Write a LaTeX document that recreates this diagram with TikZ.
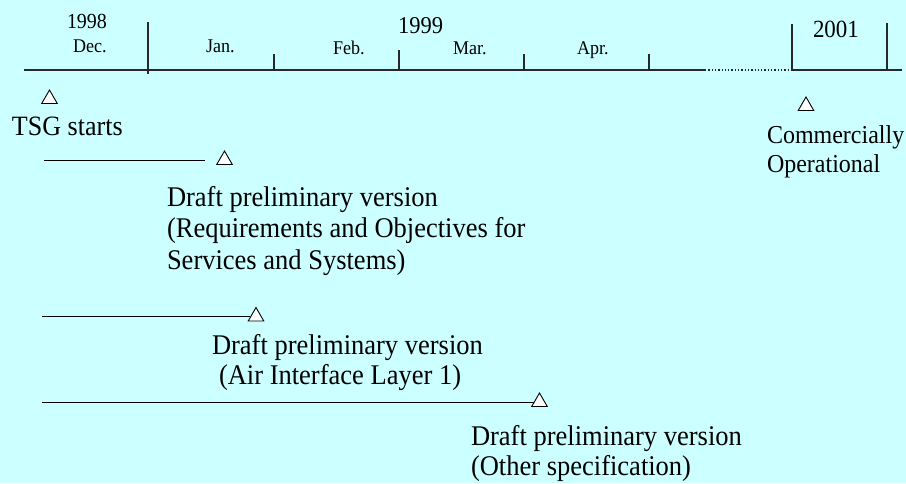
\documentclass[tikz,border=0pt]{standalone}
\usepackage{fontspec}
\setmainfont{Liberation Serif}[FakeStretch=0.93]
\usetikzlibrary{shapes.geometric}
\definecolor{bgcyan}{RGB}{204,255,255}
\definecolor{axisgrey}{RGB}{40,40,40}
\begin{document}
\begin{tikzpicture}[x=1pt,y=-1pt,
  lbl/.style={inner sep=0pt, outer sep=0pt, anchor=base west, text=black},
  mlbl/.style={inner sep=0pt, outer sep=0pt, anchor=north west, align=left, text=black},
  monthfont/.style={font=\fontsize{19.4}{22}\selectfont},
  tri/.style={regular polygon, regular polygon sides=3, minimum size=18pt,
    inner sep=0pt, draw=black, fill=white, line width=0.9pt},
  axisline/.style={draw=axisgrey, line width=1.3pt},
  tickline/.style={draw=axisgrey, line width=1.1pt},
  spanline/.style={draw=black, line width=1pt}]
\useasboundingbox (0,0) rectangle (906,483);
\fill[bgcyan] (0,0) rectangle (906,483);

% axis
\coordinate (a0) at (24,70);
\coordinate (a1) at (705,70);
\coordinate (a2) at (792,70);
\coordinate (a3) at (902,70);
\draw[axisline] (a0) -- (a1);
\draw[axisline, dotted] (a1) -- (a2);
\draw[axisline] (a2) -- (a3);

% ticks
\draw[tickline] (148,22) -- (148,74);
\draw[tickline] (274,54) -- (274,70);
\draw[tickline] (399,50) -- (399,70);
\draw[tickline] (524,54) -- (524,70);
\draw[tickline] (649,54) -- (649,70);
\draw[tickline] (792,24) -- (792,70);
\draw[tickline] (887,23) -- (887,70);

% axis labels
\node[lbl, font=\fontsize{21.5}{25}\selectfont] (y1998) at (67,28) {1998};
\node[lbl, monthfont] (dec) at (73,52.5) {Dec.};
\node[lbl, monthfont] (jan) at (206,52.5) {Jan.};
\node[lbl, monthfont] (feb) at (333,54) {Feb.};
\node[lbl, font=\fontsize{24.2}{28}\selectfont] (y1999) at (398,33) {1999};
\node[lbl, monthfont] (mar) at (453,54) {Mar.};
\node[lbl, monthfont] (apr) at (577,54) {Apr.};
\node[lbl, font=\fontsize{24.7}{28}\selectfont] (y2001) at (813,37) {2001};

% TSG starts
\node[tri] (t0) at (49.5,99) {};
\node[lbl, font=\fontsize{28}{32}\selectfont] (tsg) at (12,135) {TSG starts};

% Commercially operational
\node[tri] (tc) at (806,106) {};
\node[mlbl, font=\fontsize{25.8}{29}\selectfont] (comm) at (767,126) {Commercially\\Operational};

% span 1
\coordinate (s1) at (44,160);
\node[tri] (t1) at (224.5,160) {};
\draw[spanline, shorten >=14pt] (s1) -- (t1);
\node[mlbl, font=\fontsize{28.5}{31.5}\selectfont] (d1) at (167,186) {Draft preliminary version\\(Requirements and Objectives for\\Services and Systems)};

% span 2
\coordinate (s2) at (42,316.5);
\node[tri] (t2) at (256,316.5) {};
\draw[spanline] (s2) -- (t2);
\node[mlbl, font=\fontsize{28.5}{29.5}\selectfont] (d2) at (212,334.5) {Draft preliminary version\\\hspace*{7pt}(Air Interface Layer 1)};

% span 3
\coordinate (s3) at (42,402);
\node[tri] (t3) at (539.5,402) {};
\draw[spanline] (s3) -- (t3);
\node[mlbl, font=\fontsize{28.5}{30}\selectfont] (d3) at (471,425.5) {Draft preliminary version\\(Other specification)};
\end{tikzpicture}
\end{document}
